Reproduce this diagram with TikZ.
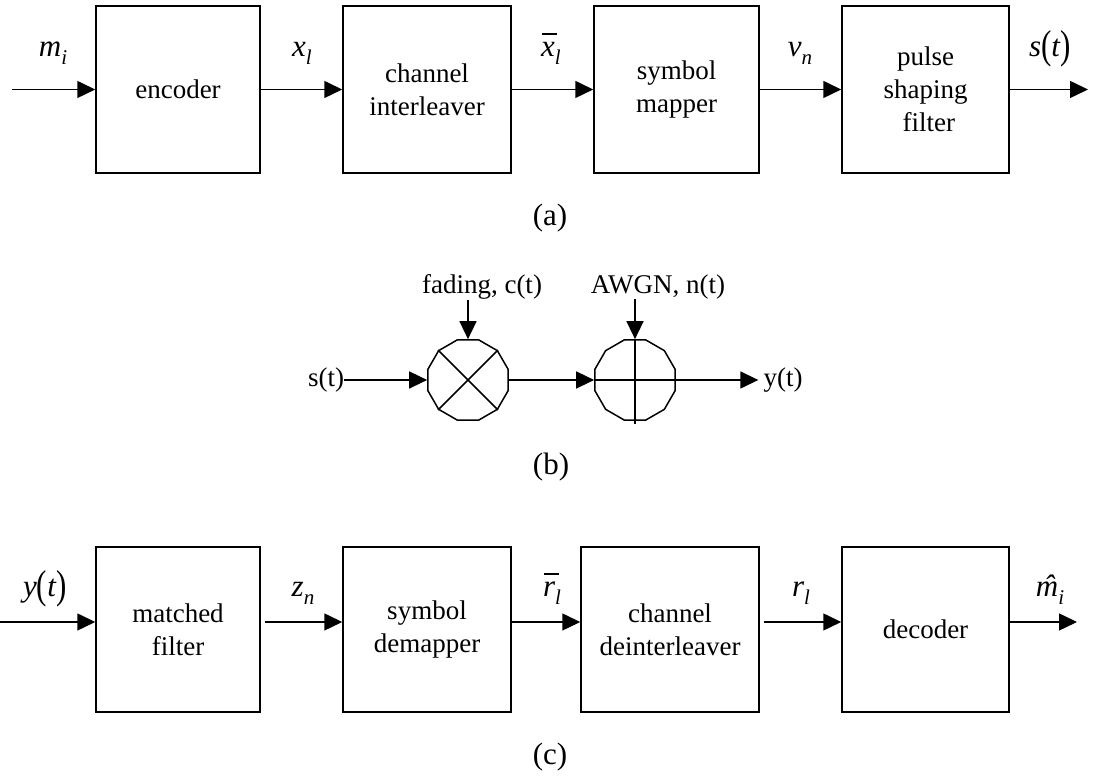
\documentclass[tikz,border=0pt]{standalone}
\usepackage{fontspec}
\setmainfont{Liberation Serif}
\usetikzlibrary{arrows.meta,shapes.geometric}

\newcommand{\mlab}[2]{\textit{#1}\raisebox{-8pt}{\fontsize{21}{21}\selectfont\textit{#2}}}
\newcommand{\bpar}[1]{\raisebox{-1.5pt}{\scalebox{1}[1.3]{#1}}}
\newcommand{\barred}[1]{\rlap{\kern0.04em\raisebox{0.72em}{\rule{0.46em}{0.045em}}}#1}
\newcommand{\hatted}[1]{\ooalign{#1\cr\hidewidth\kern0.12em\char"02C6\hidewidth\cr}}

\tikzset{
  blk/.style={draw, line width=1.5pt, inner sep=0pt, align=center,
    font=\fontsize{27}{33}\selectfont},
  arr/.style={line width=1.5pt, -{Triangle[length=18pt,width=17pt]}},
  ln/.style={line width=1.5pt},
  mlbl/.style={inner sep=0pt, anchor=base, font=\fontsize{31}{31}\selectfont},
  txt/.style={inner sep=0pt, font=\fontsize{27}{30}\selectfont},
  subcap/.style={inner sep=0pt, font=\fontsize{31}{34}\selectfont},
  sumnode/.style={draw, line width=1.5pt, regular polygon, regular polygon sides=12,
    minimum size=83pt, inner sep=0pt},
}

\begin{document}
\begin{tikzpicture}[x=1pt,y=1pt]
\useasboundingbox (0,0) rectangle (1096,778);

% ---------- (a) transmitter ----------
\node[blk, minimum width=164pt, minimum height=167pt] (e1) at (178,688.5) {encoder};
\node[blk, minimum width=168pt, minimum height=167pt] (e2) at (427,688.5) {channel\\interleaver};
\node[blk, minimum width=165pt, minimum height=167pt] (e3) at (676.5,688.5) {symbol\\mapper};
\node[blk, minimum width=167pt, minimum height=167pt] (e4) at (925.5,688.5) {pulse\\shaping\\\ filter};
\coordinate (ain) at (12,688.5);
\coordinate (aout) at (1088,688.5);
\draw[arr] (ain) -- (e1.west);
\draw[arr] (e1.east) -- (e2.west);
\draw[arr] (e2.east) -- (e3.west);
\draw[arr] (e3.east) -- (e4.west);
\draw[arr] (e4.east) -- (aout);
\node[mlbl] (lmi) at (53,721) {\mlab{m}{i}};
\node[mlbl] (lxl) at (302,721) {\mlab{x}{l}};
\node[mlbl] (lxb) at (551,721) {\mlab{\barred{x}}{l}};
\node[mlbl] (lvn) at (800,721) {\mlab{v}{n}};
\node[mlbl] (lst) at (1050,721) {\textit{s}\bpar{(}\textit{t}\bpar{)}};
\node[subcap] (capa) at (550,560) {(a)};

% ---------- (b) channel ----------
\node[sumnode] (mul) at (468,398) {};
\draw[ln] (mul.45) -- (mul.225);
\draw[ln] (mul.135) -- (mul.315);
\node[sumnode] (add) at (635,398) {};
\draw[ln] (add.north) -- ([yshift=-3pt]add.south);
\draw[ln] (add.west) -- (add.east);
\node[txt] (st) at (326,398) {s(t)};
\node[txt] (yt) at (783,398) {y(t)};
\node[txt] (fad) at (482,491) {fading, c(t)};
\node[txt] (awgn) at (658,491) {AWGN, n(t)};
\draw[arr] (st.east) -- (mul.west);
\draw[arr] (mul.east) -- (add.west);
\draw[arr] (add.east) -- ([xshift=-5pt]yt.west);
\draw[arr] (fad.south -| mul.north) -- (mul.north);
\draw[arr] (awgn.south -| add.north) -- (add.north);
\node[subcap] (capb) at (551,311) {(b)};

% ---------- (c) receiver ----------
\node[blk, minimum width=164pt, minimum height=165pt] (d1) at (178,148.5) {matched\\filter};
\node[blk, minimum width=168pt, minimum height=165pt] (d2) at (427,148.5) {symbol\\demapper};
\node[blk, minimum width=178pt, minimum height=165pt] (d3) at (670,148.5) {channel\\deinterleaver};
\node[blk, minimum width=167pt, minimum height=165pt] (d4) at (925.5,148.5) {decoder};
\coordinate (cin) at (0,156);
\coordinate (cout) at (1077,156);
\draw[arr] (cin) -- (cin -| d1.west);
\draw[arr, shorten <=4pt] (d1.east |- cin) -- (d2.west |- cin);
\draw[arr] (d2.east |- cin) -- (d3.west |- cin);
\draw[arr, shorten <=4pt] (d3.east |- cin) -- (d4.west |- cin);
\draw[arr] (d4.east |- cin) -- (cout);
\node[mlbl] (lyt) at (45,181) {\textit{y}\bpar{(}\textit{t}\bpar{)}};
\node[mlbl] (lzn) at (303,181) {\mlab{z}{n}};
\node[mlbl] (lrb) at (552,181) {\mlab{\barred{r}}{l}};
\node[mlbl] (lrl) at (801,181) {\mlab{r}{l}};
\node[mlbl] (lmh) at (1050,181) {\mlab{\hatted{m}}{i}};
\node[subcap] (capc) at (550,21) {(c)};
\end{tikzpicture}
\end{document}
